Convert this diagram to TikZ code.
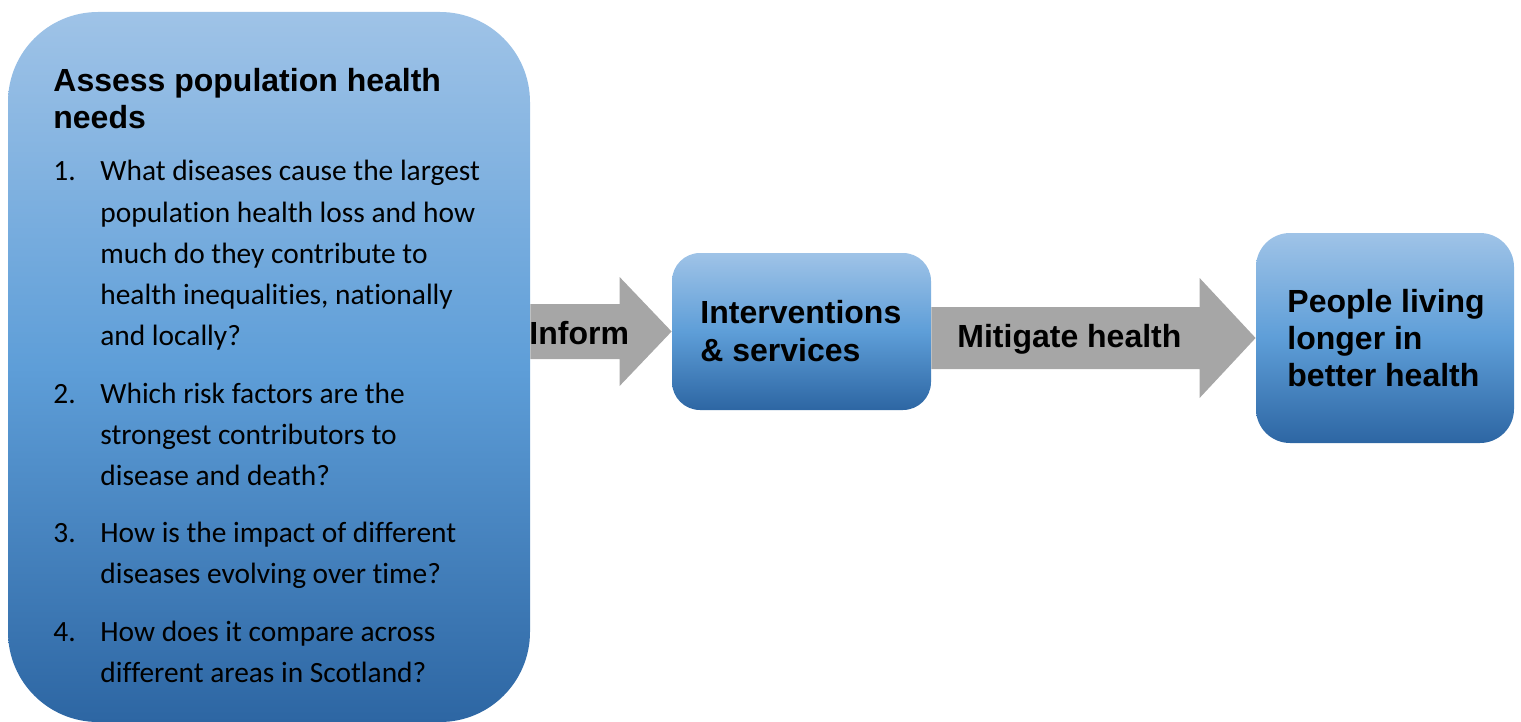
\documentclass[tikz,border=0pt]{standalone}
\usepackage{fontspec}
\setmainfont{Carlito}[RawFeature={-liga;-clig;-dlig}]
\newfontfamily\headfont{Liberation Sans}
\usepackage{xcolor}
\usetikzlibrary{calc}

\definecolor{boxtop}{HTML}{9FC3E7}
\definecolor{boxmid}{HTML}{5E9ED8}
\definecolor{boxbot}{HTML}{2D66A3}
\definecolor{arrowgray}{HTML}{A6A6A6}

\tikzset{
  bluebox/.style={rounded corners=#1, top color=boxtop, bottom color=boxbot, middle color=boxmid, inner sep=0pt},
  headtext/.style={font=\headfont\bfseries\fontsize{16}{18}\selectfont, anchor=base west, inner sep=0pt},
  bodytext/.style={font=\fontsize{14.7}{20.5}\selectfont, anchor=base west, inner sep=0pt},
}

\begin{document}
\begin{tikzpicture}[x=0.5pt, y=-0.5pt]
    \useasboundingbox (0,0) rectangle (1521,722);

    % Boxes
    \node[bluebox=45pt, minimum width=261pt, minimum height=355pt] (needs) at (269,367) {};
    \node[bluebox=14pt, minimum width=129.5pt, minimum height=78.5pt] (interventions) at (801.5,331.5) {};
    \node[bluebox=17pt, minimum width=129pt, minimum height=105pt] (outcome) at (1385,338) {};

    % Block arrows
    \coordinate (informtip) at (interventions.west);
    \fill[arrowgray] ($(needs.east |- informtip)+(0,-27.5)$) -- ($(informtip)+(-52,-27.5)$) -- ($(informtip)+(-52,-54.5)$)
        -- (informtip) -- ($(informtip)+(-52,54.5)$) -- ($(informtip)+(-52,27.5)$) -- ($(needs.east |- informtip)+(0,27.5)$) -- cycle;
    \coordinate (mitigatetip) at (outcome.west);
    \fill[arrowgray] ($(interventions.east |- mitigatetip)+(0,-31)$) -- ($(mitigatetip)+(-56,-31)$) -- ($(mitigatetip)+(-56,-60)$)
        -- (mitigatetip) -- ($(mitigatetip)+(-56,60)$) -- ($(mitigatetip)+(-56,31)$) -- ($(interventions.east |- mitigatetip)+(0,31)$) -- cycle;
    \node[headtext] (informlabel) at (529,344) {Inform};
    \node[headtext] (mitigatelabel) at (957,347) {Mitigate health};

    % Needs assessment
    \node[headtext] (needstitle1) at (53,92) {Assess population health};
    \node[headtext] (needstitle2) at (53,128) {needs};
    \foreach \n/\y in {1/181, 2/403, 3/542, 4/641}
        \node[bodytext] (qnum\n) at (53,\y) {\n.};
    \foreach \y/\txt [count=\i] in {181/What diseases cause the largest, 222/population health loss and how,
        263/much do they contribute to, 304/{health inequalities, nationally}, 345/and locally?,
        403/Which risk factors are the, 444/strongest contributors to, 485/disease and death?,
        542/How is the impact of different, 583/diseases evolving over time?,
        641/How does it compare across, 682/different areas in Scotland?}
        \node[bodytext] (qline\i) at (100,\y) {\txt};

    % Interventions and outcome
    \node[headtext] (interventions1) at (700,323) {Interventions};
    \node[headtext] (interventions2) at (700,361) {\& services};
    \node[headtext] (outcome1) at (1287,312) {People living};
    \node[headtext] (outcome2) at (1287,349) {longer in};
    \node[headtext] (outcome3) at (1287,386) {better health};
\end{tikzpicture}
\end{document}
